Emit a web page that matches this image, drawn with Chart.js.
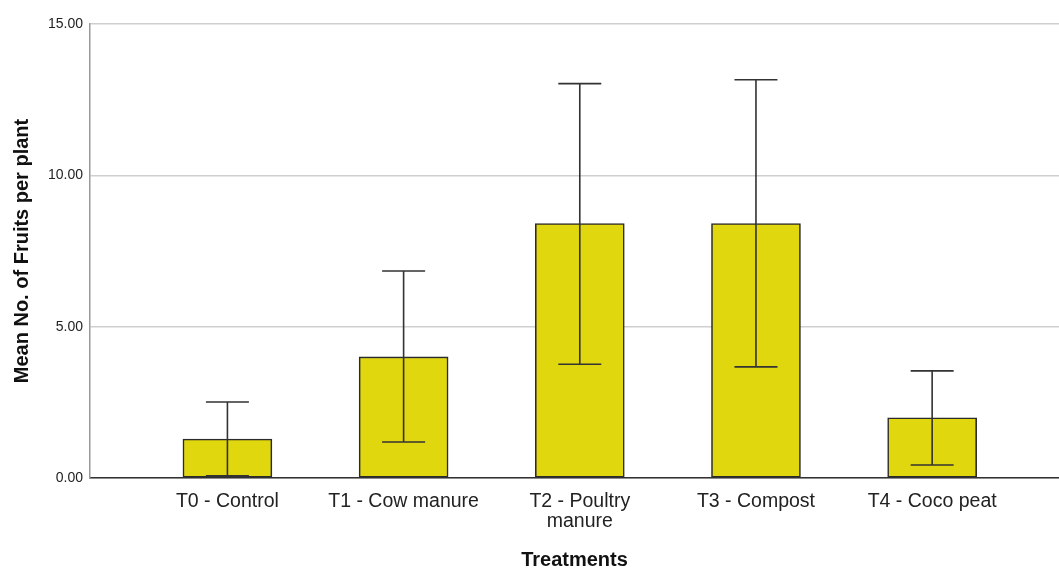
<!DOCTYPE html>
<html>
<head>
<meta charset="utf-8">
<script src="https://cdn.jsdelivr.net/npm/chart.js@4"></script>
<style>
  html, body { margin: 0; padding: 0; background: #fff; }
  #wrap { width: 1059px; height: 570px; }
</style>
</head>
<body>
<div id="wrap"><canvas id="chart"></canvas></div>
<script>
// treatments and values
let treatments = [['T0 - Control'], ['T1 - Cow manure'], ['T2 - Poultry', 'manure'], ['T3 - Compost'], ['T4 - Coco peat']];
let means = [1.29, 4.00, 8.41, 8.41, 1.99];
let errHigh = [2.51, 6.84, 13.03, 13.16, 3.54];
let errLow = [0.07, 1.19, 3.76, 3.67, 0.43];
let yTicks = [0, 5, 10, 15];

let font = '"Liberation Sans", Arial, sans-serif';

// error bars, drawn from the scales
let errorBars = {
    id: 'errorBars',
    afterDatasetsDraw(chart) {
        let ctx = chart.ctx;
        let xs = chart.scales.x, ys = chart.scales.y;
        ctx.save();
        ctx.strokeStyle = '#333';
        ctx.lineWidth = 1.6;
        for (let i = 0; i < means.length; i++) {
            let x = xs.getPixelForValue(i);
            let top = ys.getPixelForValue(errHigh[i]);
            let bot = ys.getPixelForValue(errLow[i]);
            ctx.beginPath();
            ctx.moveTo(x, top); ctx.lineTo(x, bot);
            ctx.moveTo(x - 21.5, top); ctx.lineTo(x + 21.5, top);
            ctx.moveTo(x - 21.5, bot); ctx.lineTo(x + 21.5, bot);
            ctx.stroke();
        }
        ctx.restore();
    }
};

let chart = new Chart(document.getElementById('chart'), {
    type: 'bar',
    data: {
        datasets: [{
            data: means.map((m, i) => ({ x: i, y: m })),
            backgroundColor: '#e1d70f',
            borderColor: '#2b2b2b',
            borderWidth: 1.6,
            borderSkipped: false,
            barThickness: 89
        }]
    },
    options: {
        responsive: true,
        maintainAspectRatio: false,
        animation: false,
        layout: { padding: { left: 10, right: 0, top: 24, bottom: 0 } },
        plugins: { legend: { display: false }, tooltip: { enabled: false } },
        scales: {
            x: {
                type: 'linear',
                offset: false,
                min: -0.78,
                max: 4.72,
                afterBuildTicks: axis => { axis.ticks = treatments.map((t, i) => ({ value: i })); },
                afterFit: scale => { scale.height = 92; },
                ticks: {
                    callback: (v) => treatments[v],
                    font: { family: font, size: 19.5, lineHeight: 1.05 },
                    color: '#222',
                    padding: 5,
                    maxRotation: 0,
                    autoSkip: false
                },
                grid: { display: false },
                border: { color: '#333', width: 1.5 },
                title: {
                    display: true,
                    text: 'Treatments',
                    font: { family: font, size: 20, weight: 'bold', lineHeight: 1.0 },
                    color: '#111',
                    padding: { top: 0, bottom: 0 }
                }
            },
            y: {
                min: 0,
                max: 15,
                afterBuildTicks: axis => { axis.ticks = yTicks.map(v => ({ value: v })); },
                afterFit: scale => { scale.width = 80; },
                ticks: {
                    callback: v => v.toFixed(2),
                    font: { family: font, size: 14 },
                    color: '#222',
                    padding: 7
                },
                grid: { color: '#cfcfcf', lineWidth: 1.5, drawTicks: false },
                border: { color: '#999', width: 1.5 },
                title: {
                    display: true,
                    text: 'Mean No. of Fruits per plant',
                    font: { family: font, size: 20, weight: 'bold' },
                    color: '#111',
                    padding: { top: 0, bottom: 0 }
                }
            }
        }
    },
    plugins: [errorBars]
});
</script>
</body>
</html>
